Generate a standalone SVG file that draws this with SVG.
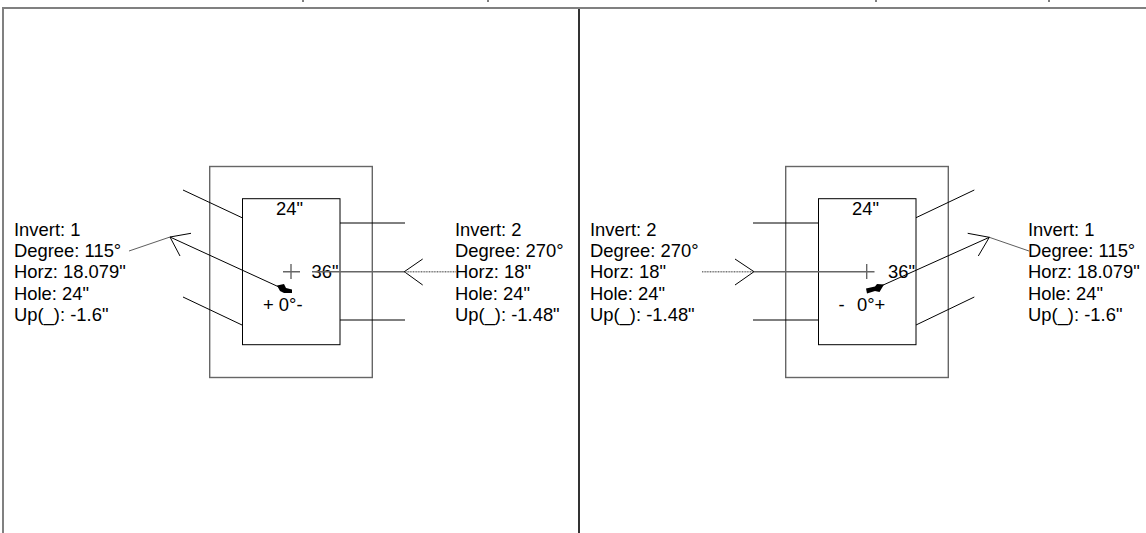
<svg xmlns="http://www.w3.org/2000/svg" width="1146" height="533" viewBox="0 0 1146 533">
<style>
text{font-family:"Liberation Sans",Arial,sans-serif;font-size:18.4px;fill:#000}
.l{fill:none;stroke:#000;stroke-width:1}
.g{fill:none;stroke:#666;stroke-width:1.4}
.f{fill:#000;stroke:none}
.t{fill:none;stroke:#333;stroke-width:.8}
.d{fill:none;stroke:#777;stroke-width:1.4;stroke-dasharray:1 .6}
.b{fill:none;stroke:#808080;stroke-width:2}
</style>
<rect width="1146" height="533" fill="#fff"/>
<g id="frame">
<path class="b" d="M3 533V8H1146"/>
<path d="M579 9V533" fill="none" stroke="#333" stroke-width="2"/>
<path class="l" d="M303 0V2M488 0V2M876 0V2M1049 0V2"/>
</g>
<g id="left-unit">
<rect class="g" x="209.700" y="166.500" width="162.600" height="211"/>
<rect class="l" x="242.500" y="198.700" width="97.500" height="146"/>
<path class="l" d="M183 190L242 217.700M183 297L242 325M340 223H405M340 320H405"/>
<path class="g" d="M283 271.700H300M291 264V279"/>
<text x="276" y="214.500">24"</text>
<text x="311.500" y="277.500">36"</text>
<text x="263" y="311">+ 0°-</text>
</g>
<g id="right-unit">
<rect class="g" x="785.700" y="166.500" width="162.600" height="211"/>
<rect class="l" x="818.500" y="198.700" width="97.500" height="146"/>
<path class="l" d="M753 223H818M753 320H818M916 217.700L974.300 190M916 325L974.300 297"/>
<path class="g" d="M858 271.700H874.500M866.700 264V279"/>
<text x="852" y="214.500">24"</text>
<text x="888" y="277.500">36"</text>
<text x="838.500" y="311">-&#160;&#160;<tspan x="857">0°+</tspan></text>
</g>
<g id="left-label-1"><text x="14" y="236">Invert: 1</text><text x="14" y="257">Degree: 115°</text><text x="14" y="278">Horz: 18.079"</text><text x="14" y="300">Hole: 24"</text><text x="14" y="321">Up(_): -1.6"</text></g>
<g id="left-label-2"><text x="455" y="236">Invert: 2</text><text x="455" y="257">Degree: 270°</text><text x="455" y="278">Horz: 18"</text><text x="455" y="300">Hole: 24"</text><text x="455" y="321">Up(_): -1.48"</text></g>
<g id="right-label-2"><text x="590" y="236">Invert: 2</text><text x="590" y="257">Degree: 270°</text><text x="590" y="278">Horz: 18"</text><text x="590" y="300">Hole: 24"</text><text x="590" y="321">Up(_): -1.48"</text></g>
<g id="right-label-1"><text x="1028" y="236">Invert: 1</text><text x="1028" y="257">Degree: 115°</text><text x="1028" y="278">Horz: 18.079"</text><text x="1028" y="300">Hole: 24"</text><text x="1028" y="321">Up(_): -1.6"</text></g>
<g id="connectors">
<path class="t" d="M129 251L170 237"/>
<path class="l" d="M170 237L279 287M191 233.300L170 237L180 256"/>
<path class="f" d="M277 285.500L284 284L286 288L292 289.500V293L284 293L280 291Z"/>
<path class="g" d="M312 271.700H405"/>
<path class="l" d="M422.700 259L404.300 271.700L422.700 285"/>
<path class="d" d="M405 271.700H456"/>
<path class="d" d="M702 271.700H753"/>
<path class="l" d="M735 259L754 271.700L735 285"/>
<path class="g" d="M754 271.700H858"/>
<path class="t" d="M1029 251L989.300 237.300"/>
<path class="l" d="M989.300 237.300L881 286M967.700 233.300L989.300 237.300L978.300 256"/>
<path class="f" d="M866 288.500L875 286.500L877 284L884 284.500L879.500 292L875 291L867 293.500Z"/>
</g>
</svg>
